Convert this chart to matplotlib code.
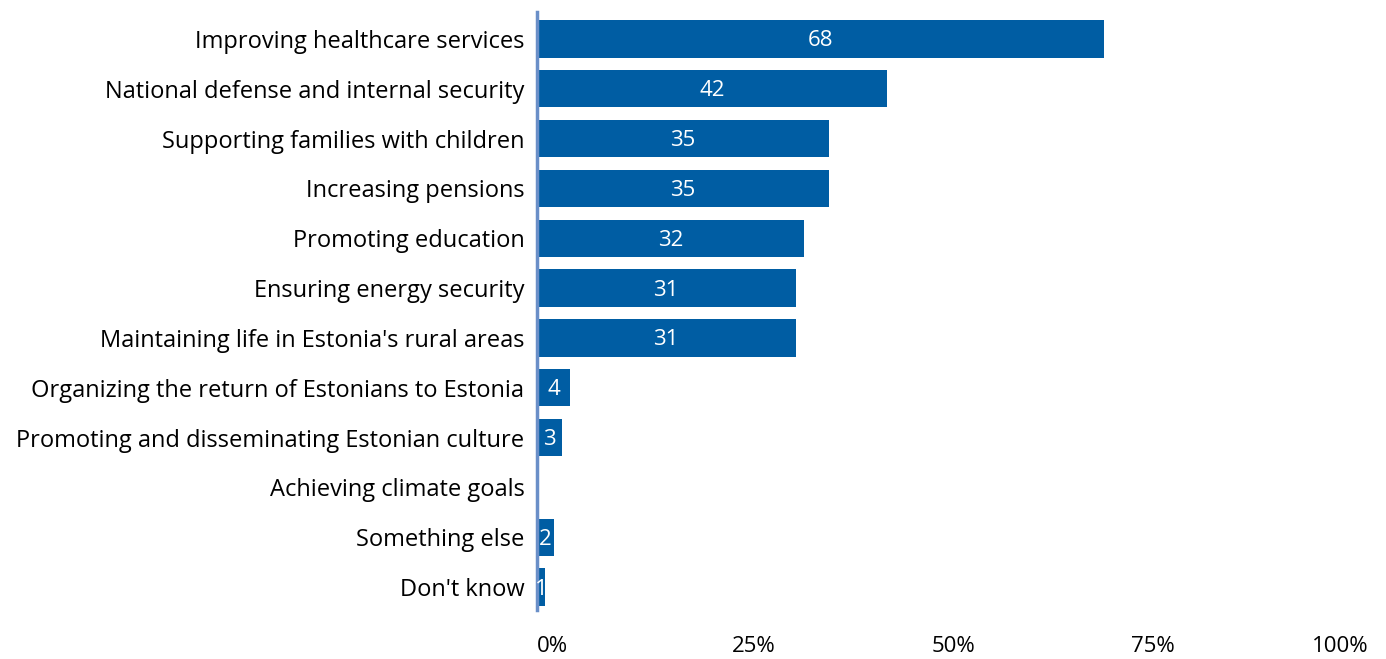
import matplotlib.pyplot as plt
import matplotlib.transforms as mtransforms

categories = [
    "Improving healthcare services",
    "National defense and internal security",
    "Supporting families with children",
    "Increasing pensions",
    "Promoting education",
    "Ensuring energy security",
    "Maintaining life in Estonia's rural areas",
    "Organizing the return of Estonians to Estonia",
    "Promoting and disseminating Estonian culture",
    "Achieving climate goals",
    "Something else",
    "Don't know",
]
values = [68, 42, 35, 35, 32, 31, 31, 4, 3, 0, 2, 1]
tick_values = [0, 25, 50, 75, 100]
tick_labels = ["0%", "25%", "50%", "75%", "100%"]

bar_color = "#005da3"
axis_color = "#6a8fc8"

plt.rcParams['font.family'] = ['Open Sans', 'DejaVu Sans']

fig = plt.figure(figsize=(13.86, 6.59), dpi=100)
ax = fig.add_axes([0.3874, 0.0744, 0.6018, 0.9074])

pos = list(range(len(categories)))
ax.barh(pos, values, height=0.75, color=bar_color)

for y, v in zip(pos, values):
    if v > 0:
        ax.text(v / 2, y + 0.04, str(v), ha='center', va='center',
                color='white', fontsize=16)

ax.set_xlim(0, 100)
ax.set_ylim(len(categories) - 0.54, -0.54)
ax.set_yticks(pos)
ax.set_yticklabels(categories, fontsize=17)
ax.tick_params(axis='y', length=0, pad=9)

ax.set_xticks(tick_values)
ax.set_xticklabels(tick_labels, fontsize=16)
ax.tick_params(axis='x', length=0, pad=19)
# push outer labels inward
shifts = [16, 8, 0, -10, -31]
for lab, dx in zip(ax.get_xticklabels(), shifts):
    lab.set_transform(lab.get_transform() +
                      mtransforms.ScaledTranslation(dx / 100, 0, fig.dpi_scale_trans))

for s in ['top', 'right', 'bottom']:
    ax.spines[s].set_visible(False)
ax.spines['left'].set_color(axis_color)
ax.spines['left'].set_linewidth(2.5)

fig.savefig('out.png', dpi=100)
